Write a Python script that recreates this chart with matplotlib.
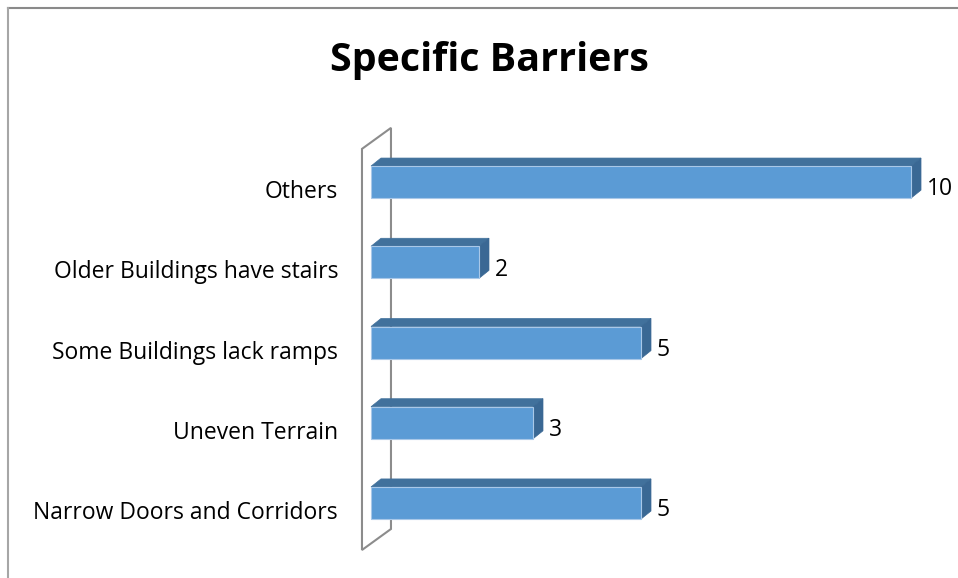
import matplotlib.pyplot as plt
from matplotlib.lines import Line2D
from matplotlib.patches import Polygon

CATEGORIES = [
    "Narrow Doors and Corridors",
    "Uneven Terrain",
    "Some Buildings lack ramps",
    "Older Buildings have stairs",
    "Others",
]
COUNTS = [5, 3, 5, 2, 10]
TITLE = "Specific Barriers"

FRONT = "#5b9bd5"
TOP = "#41719c"
SIDE = "#3a6894"
EDGE = "#a9c8e8"
WALL = "#8c8c8c"

BAR_H = 0.40      # bar thickness, in category units
DEPTH_X = 0.185   # 3D depth of bars along x (value units)
DEPTH_Y = 0.10    # 3D depth of bars along y (category units)

plt.rcParams["font.family"] = ["Open Sans", "DejaVu Sans"]

fig = plt.figure(figsize=(9.58, 5.78), dpi=100)
ax = fig.add_axes([0, 0, 1, 1])
ax.set_xlim(-6.87, 10.87)
ax.set_ylim(-0.935, 6.27)
ax.axis("off")

# back wall of the 3D plot area
wall_x, wall_dx, wall_dy = -0.167, 0.537, 0.262
n = len(CATEGORIES)
lo, hi = -0.5 - 0.086, n - 0.5 - 0.086
wall = Polygon(
    [(wall_x, lo), (wall_x, hi), (wall_x + wall_dx, hi + wall_dy),
     (wall_x + wall_dx, lo + wall_dy)],
    closed=True, facecolor="none", edgecolor=WALL, linewidth=1.5, zorder=1,
)
ax.add_patch(wall)

for i, (label, v) in enumerate(zip(CATEGORIES, COUNTS)):
    y0, y1 = i - BAR_H / 2, i + BAR_H / 2
    top = [(0, y1), (v, y1), (v + DEPTH_X, y1 + DEPTH_Y), (DEPTH_X, y1 + DEPTH_Y)]
    side = [(v, y0), (v + DEPTH_X, y0 + DEPTH_Y), (v + DEPTH_X, y1 + DEPTH_Y), (v, y1)]
    front = [(0, y0), (v, y0), (v, y1), (0, y1)]
    ax.add_patch(Polygon(top, closed=True, facecolor=TOP, edgecolor=TOP, lw=0.5, zorder=3))
    ax.add_patch(Polygon(side, closed=True, facecolor=SIDE, edgecolor=SIDE, lw=0.5, zorder=3))
    ax.add_patch(Polygon(front, closed=True, facecolor=FRONT, edgecolor=EDGE, lw=0.8, zorder=4))

    ax.text(-0.611, i - 0.125, label, ha="right", va="center", fontsize=16.5, color="#000000")
    ax.text(v + DEPTH_X + 0.11, i - 0.09, str(v), ha="left", va="center", fontsize=16.5, color="#000000")

fig.text(489 / 958, 1 - 60 / 578, TITLE, ha="center", va="center",
         fontsize=28.4, fontweight="bold", color="#000000")

# chart frame
fig.add_artist(Line2D([8 / 958, 1], [1 - 8 / 578, 1 - 8 / 578], transform=fig.transFigure,
                      color="#8a8a8a", lw=1.5))
fig.add_artist(Line2D([8 / 958, 8 / 958], [0, 1 - 8 / 578], transform=fig.transFigure,
                      color="#a6a6a6", lw=1.5))

fig.savefig("out.png", dpi=100)
